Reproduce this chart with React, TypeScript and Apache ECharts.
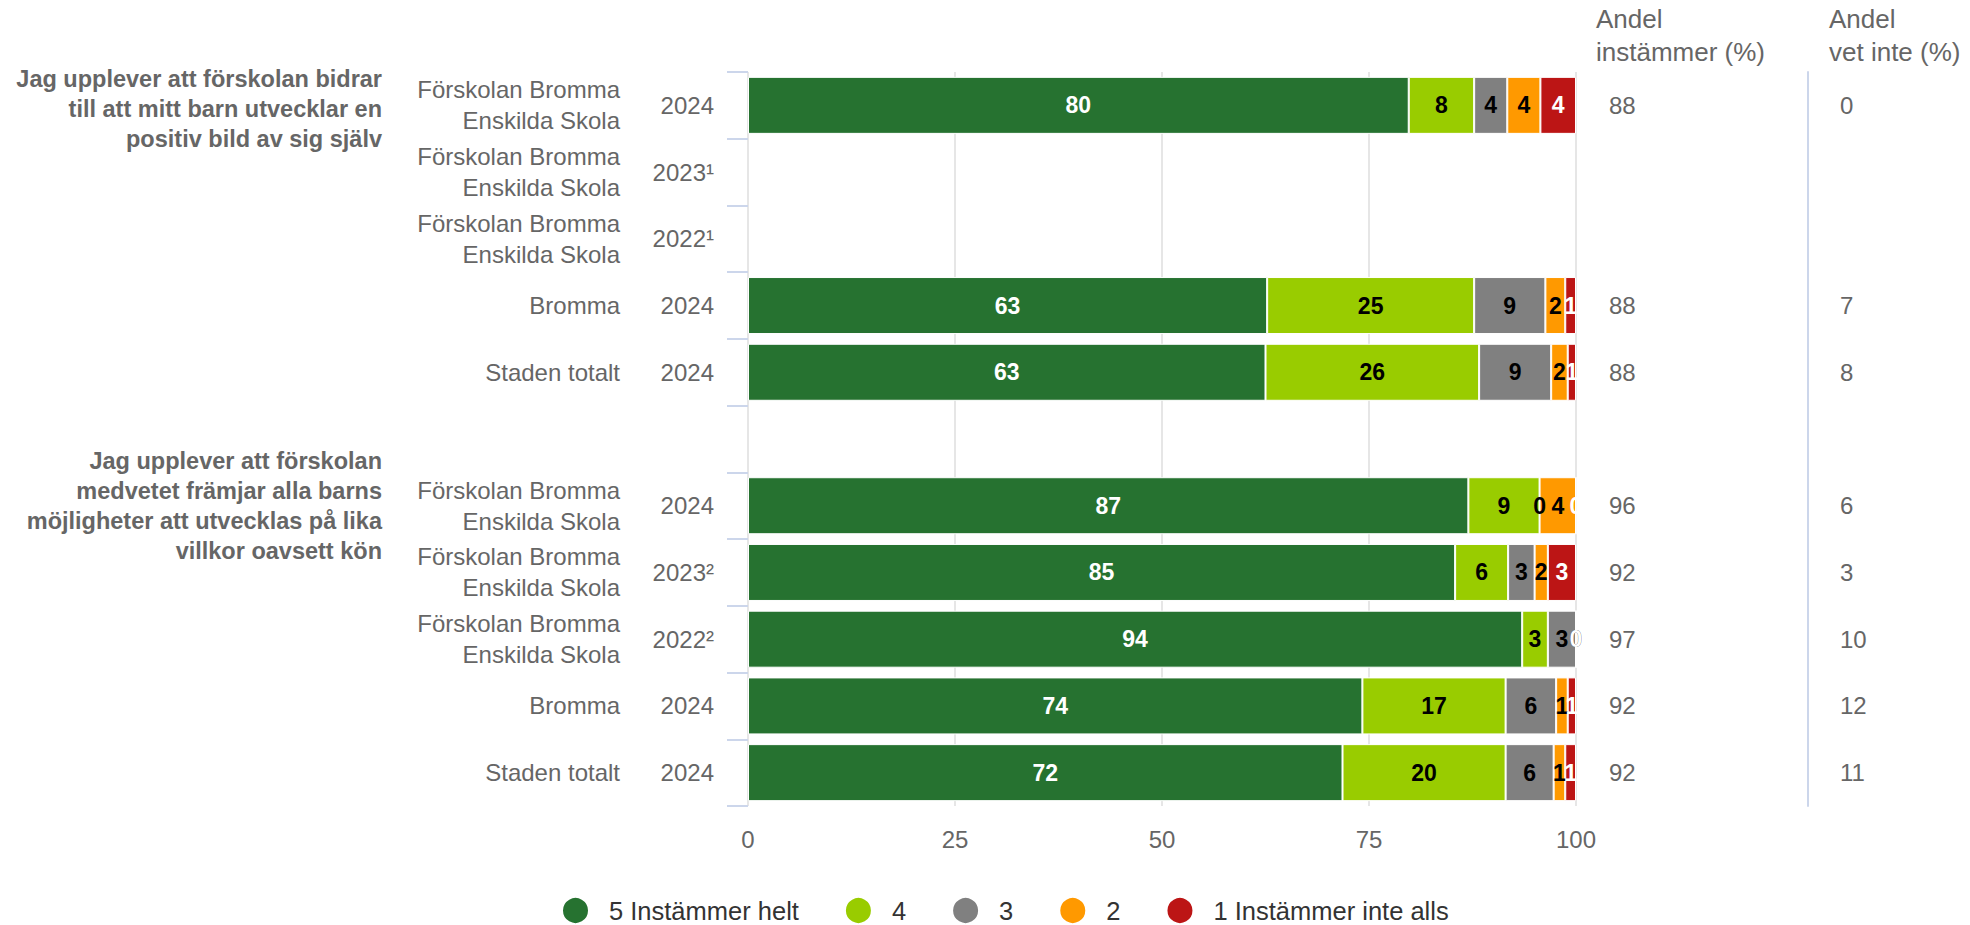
import React, { useEffect, useRef } from "react";
import * as echarts from "echarts";

// ---- data ----
const rowNames = [
  "Förskolan Bromma\nEnskilda Skola",
  "Förskolan Bromma\nEnskilda Skola",
  "Förskolan Bromma\nEnskilda Skola",
  "Bromma",
  "Staden totalt",
  "",
  "Förskolan Bromma\nEnskilda Skola",
  "Förskolan Bromma\nEnskilda Skola",
  "Förskolan Bromma\nEnskilda Skola",
  "Bromma",
  "Staden totalt",
];
const rowYears = ["2024", "2023¹", "2022¹", "2024", "2024", "", "2024", "2023²", "2022²", "2024", "2024"];
const andelInstammer = ["88", "", "", "88", "88", "", "96", "92", "97", "92", "92"];
const andelVetInte = ["0", "", "", "7", "8", "", "6", "3", "10", "12", "11"];

const questions = [
  "Jag upplever att förskolan bidrar\ntill att mitt barn utvecklar en\npositiv bild av sig själv",
  "Jag upplever att förskolan\nmedvetet främjar alla barns\nmöjligheter att utvecklas på lika\nvillkor oavsett kön",
];
const headers = ["Andel\ninstämmer (%)", "Andel\nvet inte (%)"];

const seriesNames = ["5 Instämmer helt", "4", "3", "2", "1 Instämmer inte alls"];
const seriesColors = ["#267230", "#99cc00", "#808080", "#ff9900", "#bc1515"];
const labelColors = ["#ffffff", "#000000", "#000000", "#000000", "#ffffff"];

const v5 = [79.8, null, null, 62.7, 62.5, null, 87.0, 85.4, 93.5, 74.2, 71.8];
const v4 = [7.9, null, null, 25.0, 25.8, null, 8.6, 6.4, 3.1, 17.3, 19.7];
const v3 = [4.0, null, null, 8.6, 8.7, null, 0, 3.2, 3.4, 6.1, 5.8];
const v2 = [4.0, null, null, 2.4, 2.0, null, 4.4, 1.6, 0, 1.4, 1.4];
const v1 = [4.3, null, null, 1.3, 1.0, null, 0, 3.4, 0, 1.0, 1.3];

const xMin = 0;
const xMax = 100;
const xInterval = 25;

const FONT = "'Liberation Sans', Arial, Helvetica, sans-serif";

export default function App() {
  const ref = useRef<HTMLDivElement>(null);
  useEffect(() => {
    if (!ref.current) return;
    const chart = echarts.init(ref.current, null, { renderer: "svg" });
    const idx = rowNames.map((_, i) => String(i));
    const seriesData = [v5, v4, v3, v2, v1];
    const gridLeft = 748;
    const gridRight = 394;
    const gridTop = 72;
    const gridBottom = 119;
    const rightEdge = 1970 - gridRight;

    const catAxisBase = {
      type: "category",
      inverse: true,
      data: idx,
      axisLine: { show: false },
      axisTick: { show: false },
      splitLine: { show: false },
    };

    const titleStyle = {
      fontSize: 23.5,
      fontWeight: "bold",
      fontFamily: FONT,
      lineHeight: 30,
      fill: "#666666",
      align: "right",
      textAlign: "right",
      verticalAlign: "top",
      textVerticalAlign: "top",
    };
    const headerStyle = {
      fontSize: 26,
      fontFamily: FONT,
      lineHeight: 33,
      fill: "#666666",
      align: "left",
      textAlign: "left",
      verticalAlign: "top",
      textVerticalAlign: "top",
    };

    const option: any = {
      animation: false,
      textStyle: { fontFamily: FONT },
      grid: {
        left: gridLeft,
        right: gridRight,
        top: gridTop,
        bottom: gridBottom,
        containLabel: false,
        outerBoundsMode: "none",
      },
      legend: {
        left: 556,
        top: 891,
        icon: "circle",
        itemWidth: 57,
        itemHeight: 27,
        itemGap: 45,
        selectedMode: false,
        textStyle: { fontSize: 25.5, color: "#333333", fontFamily: FONT },
        data: seriesNames,
      },
      xAxis: {
        type: "value",
        min: xMin,
        max: xMax,
        interval: xInterval,
        axisLine: { show: false },
        axisTick: { show: false },
        splitLine: { show: true, lineStyle: { color: "#e6e6e6", width: 2 } },
        axisLabel: { fontSize: 24, color: "#666666", margin: 21, fontFamily: FONT },
      },
      yAxis: [
        {
          ...catAxisBase,
          position: "left",
          axisTick: { show: true, length: 21, lineStyle: { color: "#ccd6eb", width: 2 } },
          axisLabel: {
            margin: 34,
            fontSize: 24,
            color: "#666666",
            fontFamily: FONT,
            formatter: (_v: string, i: number) => rowYears[i],
          },
        },
        {
          ...catAxisBase,
          position: "left",
          axisLabel: {
            margin: 128,
            fontSize: 24,
            lineHeight: 31,
            align: "right",
            color: "#666666",
            fontFamily: FONT,
            formatter: (_v: string, i: number) => rowNames[i],
          },
        },
        {
          ...catAxisBase,
          position: "right",
          axisLabel: {
            margin: 33,
            fontSize: 24,
            color: "#666666",
            fontFamily: FONT,
            formatter: (_v: string, i: number) => andelInstammer[i],
          },
        },
        {
          ...catAxisBase,
          position: "right",
          offset: 232,
          axisLine: { show: true, lineStyle: { color: "#ccd6eb", width: 2 } },
          axisLabel: {
            margin: 32,
            fontSize: 24,
            color: "#666666",
            fontFamily: FONT,
            formatter: (_v: string, i: number) => andelVetInte[i],
          },
        },
      ],
      graphic: [
        { type: "text", x: 382, y: 64, style: { text: questions[0], ...titleStyle } },
        { type: "text", x: 382, y: 446, style: { text: questions[1], ...titleStyle } },
        { type: "text", x: rightEdge + 20, y: 2, style: { text: headers[0], ...headerStyle } },
        { type: "text", x: rightEdge + 253, y: 2, style: { text: headers[1], ...headerStyle } },
      ],
      series: seriesNames.map((name, k) => ({
        name,
        type: "bar",
        stack: "total",
        yAxisIndex: 0,
        barWidth: 57,
        data: seriesData[k],
        itemStyle: { color: seriesColors[k], borderColor: "#ffffff", borderWidth: 1 },
        emphasis: { disabled: true },
        label: {
          show: true,
          position: "inside",
          color: labelColors[k],
          fontSize: 23,
          fontWeight: "bold",
          fontFamily: FONT,
          formatter: (p: any) => (p.value == null ? "" : String(Math.round(p.value))),
        },
      })),
    };
    chart.setOption(option);
    return () => chart.dispose();
  }, []);
  return (
    <div
      ref={ref}
      style={{ position: "fixed", left: 0, top: 0, width: 1970, height: 925, background: "#ffffff" }}
    />
  );
}
